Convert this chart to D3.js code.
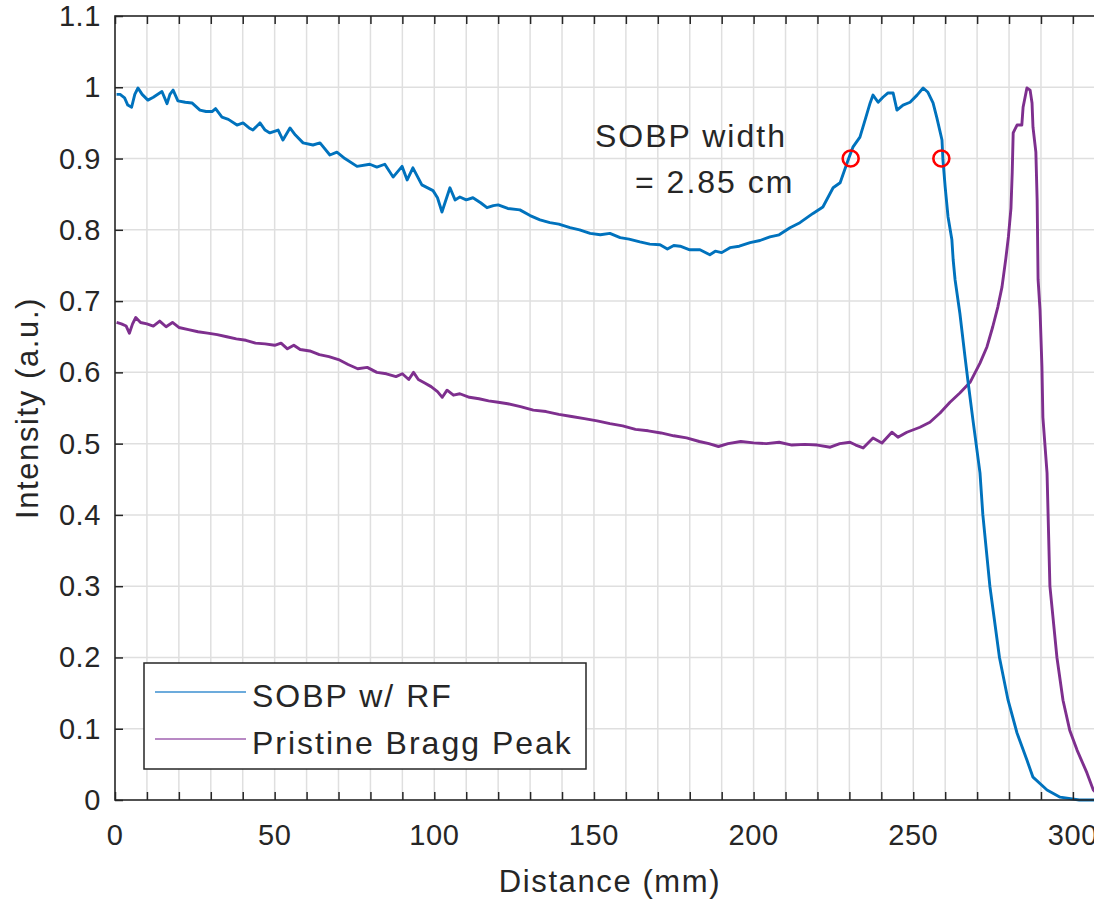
<!DOCTYPE html>
<html>
<head>
<meta charset="utf-8">
<script src="https://cdn.jsdelivr.net/npm/d3@7"></script>
<style>
  html, body { margin: 0; padding: 0; background: #fff; }
  svg { display: block; }
  text { font-family: "Liberation Sans", Arial, Helvetica, sans-serif; fill: #262626; }
</style>
</head>
<body>
<svg id="chart" width="1094" height="900"></svg>
<script>
// ---------- data ----------
const sobpX = [0.5,1.6,3.0,4.0,5.2,6.2,7.2,8.5,10.3,12.0,14.7,16.3,17.2,18.2,19.7,22.0,24.1,26.6,28.5,30.4,31.5,33.5,35.5,38.2,40.1,42.0,43.2,45.4,47.0,48.5,51.1,52.6,54.8,56.5,58.9,62.0,64.2,67.3,69.5,72.0,75.8,79.8,82.0,84.5,87.1,89.9,91.5,93.3,96.1,99.6,101.0,102.4,103.5,104.9,106.5,108.0,110.0,112.1,114.5,116.5,118.5,120.0,123,126.8,130,133.1,136.2,139,142.5,145.5,148.8,152,155,158.2,161,164.4,167.5,170.7,173,175,177,180,183.2,186.3,188,190,192.6,195.5,198.9,202,205.1,208,211.4,214.5,218.6,221.7,224.9,227.1,229.6,231.1,233.3,234.9,236.5,237.4,239.0,240.5,242.1,243.7,244.9,246.8,249.0,251.2,253.1,254.6,256.2,257.4,259.0,259.3,260.0,260.9,262.1,262.5,263.1,264.6,266.2,267.1,268.7,270.9,271.8,274.0,277.0,279.7,282.5,285.6,287.5,291.9,296.0,302.0,310.0];
const sobpY = [0.990,0.990,0.985,0.975,0.972,0.990,0.999,0.990,0.982,0.986,0.994,0.977,0.990,0.996,0.981,0.979,0.978,0.968,0.966,0.966,0.970,0.958,0.955,0.947,0.950,0.943,0.940,0.950,0.940,0.936,0.940,0.926,0.943,0.933,0.922,0.919,0.922,0.905,0.909,0.900,0.889,0.892,0.888,0.892,0.874,0.889,0.870,0.887,0.863,0.855,0.845,0.825,0.840,0.859,0.842,0.846,0.842,0.845,0.838,0.831,0.834,0.835,0.830,0.828,0.820,0.814,0.810,0.808,0.803,0.800,0.795,0.793,0.795,0.789,0.787,0.783,0.780,0.779,0.773,0.778,0.777,0.772,0.772,0.765,0.770,0.768,0.775,0.777,0.782,0.785,0.790,0.793,0.803,0.810,0.823,0.832,0.859,0.866,0.898,0.916,0.930,0.954,0.978,0.989,0.979,0.986,0.992,0.992,0.968,0.975,0.979,0.989,0.999,0.993,0.978,0.957,0.926,0.898,0.860,0.818,0.786,0.758,0.730,0.683,0.622,0.589,0.533,0.459,0.400,0.300,0.200,0.140,0.094,0.056,0.032,0.014,0.004,0.000,0.000];

const braggX = [0.5,2,3.5,4.5,5.5,6.5,8,10,12,14,16,18,20,23,26,29,32,35,38,41,44,47,50,52,54,56,58,61,64,67,70,73,76,79,82,85,88,90,92,93.5,95,97,99,101,102.5,104,106,108,111,114,117,120,123,127,131,135,139,143,147,151,155,159,163,167,171,175,179,183,186,189,192,196,200,204,208,212,216,220,224,227,230.2,232,234.3,237.4,240.2,243.3,245.2,248,252.1,255.2,258.4,261.5,264.6,267.8,270.9,273.1,274.9,276.5,277.8,279.0,279.8,280.6,281.0,281.3,282.5,284.0,284.4,285.6,286.6,287.2,287.5,288.4,288.8,289.1,289.7,290.3,290.6,291.9,292.8,295.0,296.9,299.0,301.3,304.4,306.4,308.5];
const braggY = [0.670,0.668,0.665,0.655,0.668,0.677,0.670,0.668,0.665,0.672,0.664,0.670,0.663,0.660,0.657,0.655,0.653,0.650,0.647,0.645,0.641,0.640,0.638,0.641,0.633,0.638,0.632,0.630,0.625,0.622,0.618,0.611,0.605,0.607,0.600,0.598,0.594,0.598,0.590,0.600,0.590,0.585,0.580,0.573,0.565,0.575,0.568,0.570,0.565,0.563,0.560,0.558,0.556,0.552,0.547,0.545,0.541,0.538,0.535,0.532,0.528,0.525,0.520,0.518,0.515,0.511,0.508,0.503,0.500,0.496,0.500,0.503,0.501,0.500,0.502,0.498,0.499,0.498,0.495,0.500,0.502,0.498,0.494,0.508,0.501,0.516,0.509,0.516,0.523,0.530,0.543,0.558,0.571,0.586,0.613,0.636,0.664,0.692,0.720,0.760,0.790,0.830,0.881,0.936,0.947,0.947,0.972,0.999,0.996,0.978,0.944,0.909,0.842,0.730,0.688,0.608,0.537,0.459,0.300,0.200,0.140,0.098,0.070,0.038,0.014,0.004];

const markerX = [230.4, 258.8];
const markerY = [0.9, 0.9];

const seriesNames = ["SOBP w/ RF", "Pristine Bragg Peak"];
const seriesColors = ["#0072BD", "#7E2F8E"];
const legendColors = ["#3b8fd0", "#a062b0"];

const xTicks = [0, 50, 100, 150, 200, 250, 300];
const xMinorTicks = [0,10,20,30,40,50,60,70,80,90,100,110,120,130,140,150,160,170,180,190,200,210,220,230,240,250,260,270,280,290,300,310];
const yTicks = [0, 0.1, 0.2, 0.3, 0.4, 0.5, 0.6, 0.7, 0.8, 0.9, 1, 1.1];
const yTickLabels = ["0", "0.1", "0.2", "0.3", "0.4", "0.5", "0.6", "0.7", "0.8", "0.9", "1", "1.1"];

const annotationLines = ["SOBP width", "= 2.85 cm"];

// ---------- layout ----------
(function () {
const svg = d3.select("#chart");
const pLeft = 115, pTop = 16, pBottom = 800;
const pxPerMm = 3.193;
const xMax = 310;
const pRight = pLeft + xMax * pxPerMm;

const x = d3.scaleLinear().domain([0, xMax]).range([pLeft, pRight]);
const y = d3.scaleLinear().domain([0, 1.1]).range([pBottom, pTop]);

const axisColor = "#262626";
const gridColor = "#dfdfdf";

// grid
const grid = svg.append("g");
grid.selectAll("line.vg").data(xMinorTicks.filter(d => d > 0)).join("line")
  .attr("x1", d => x(d)).attr("x2", d => x(d))
  .attr("y1", pTop).attr("y2", pBottom)
  .attr("stroke", gridColor).attr("stroke-width", 1.5);
grid.selectAll("line.hg").data(yTicks.filter(d => d > 0 && d < 1.1)).join("line")
  .attr("x1", pLeft).attr("x2", pRight)
  .attr("y1", d => y(d)).attr("y2", d => y(d))
  .attr("stroke", gridColor).attr("stroke-width", 1.5);

// clip
svg.append("clipPath").attr("id", "plotclip").append("rect")
  .attr("x", pLeft).attr("y", pTop - 2).attr("width", pRight - pLeft).attr("height", pBottom - pTop + 4);

// lines
const lineGen = d3.line().x(d => x(d[0])).y(d => y(d[1]));
const plot = svg.append("g").attr("clip-path", "url(#plotclip)");
plot.append("path").datum(d3.zip(braggX, braggY))
  .attr("d", lineGen).attr("fill", "none")
  .attr("stroke", seriesColors[1]).attr("stroke-width", 2.9).attr("stroke-linejoin", "round");
plot.append("path").datum(d3.zip(sobpX, sobpY))
  .attr("d", lineGen).attr("fill", "none")
  .attr("stroke", seriesColors[0]).attr("stroke-width", 2.9).attr("stroke-linejoin", "round");

// markers
plot.selectAll("circle.m").data(d3.zip(markerX, markerY)).join("circle")
  .attr("cx", d => x(d[0])).attr("cy", d => y(d[1])).attr("r", 8)
  .attr("fill", "none").attr("stroke", "#ff0000").attr("stroke-width", 2.6);

// axes box + inner ticks
const tickLen = 8;
const axesG = svg.append("g");
const styleAxis = g => { g.select(".domain").remove(); g.selectAll("line").attr("stroke", axisColor).attr("stroke-width", 1.5); };
axesG.append("g").attr("transform", `translate(0,${pBottom})`)
  .call(d3.axisBottom(x).tickValues(xMinorTicks).tickSize(-tickLen).tickFormat("")).call(styleAxis);
axesG.append("g").attr("transform", `translate(0,${pTop})`)
  .call(d3.axisTop(x).tickValues(xMinorTicks).tickSize(-tickLen).tickFormat("")).call(styleAxis);
axesG.append("g").attr("transform", `translate(${pLeft},0)`)
  .call(d3.axisLeft(y).tickValues(yTicks).tickSize(-tickLen).tickFormat("")).call(styleAxis);

axesG.append("rect").attr("x", pLeft).attr("y", pTop).attr("width", pRight - pLeft).attr("height", pBottom - pTop)
  .attr("fill", "none").attr("stroke", axisColor).attr("stroke-width", 1.6);

// tick labels
svg.append("g").selectAll("text").data(xTicks).join("text")
  .attr("x", d => x(d)).attr("y", 845).attr("text-anchor", "middle")
  .style("font-size", "29px").style("letter-spacing", "0.6px")
  .text(d => d);
svg.append("g").selectAll("text").data(yTicks).join("text")
  .attr("x", 101).attr("y", d => y(d) + 10).attr("text-anchor", "end")
  .style("font-size", "29px").style("letter-spacing", "0.6px")
  .text((d, i) => yTickLabels[i]);

// axis labels
svg.append("text").attr("x", 610).attr("y", 892).attr("text-anchor", "middle")
  .style("font-size", "31px").style("letter-spacing", "1.6px").text("Distance (mm)");
svg.append("text").attr("transform", "translate(38,408) rotate(-90)").attr("text-anchor", "middle")
  .style("font-size", "31px").style("letter-spacing", "1.6px").text("Intensity (a.u.)");

// annotation
svg.append("text").attr("x", 595).attr("y", 147)
  .style("font-size", "32px").style("letter-spacing", "2px").text(annotationLines[0]);
svg.append("text").attr("x", 635).attr("y", 193)
  .style("font-size", "32px").style("letter-spacing", "2px").text(annotationLines[1]);

// legend
const lg = svg.append("g");
lg.append("rect").attr("x", 144).attr("y", 663).attr("width", 442).attr("height", 106)
  .attr("fill", "#fff").attr("stroke", axisColor).attr("stroke-width", 1.5);
const legendRows = [692, 739];
seriesNames.forEach((name, i) => {
  lg.append("line").attr("x1", 155).attr("x2", 246).attr("y1", legendRows[i]).attr("y2", legendRows[i])
    .attr("stroke", legendColors[i]).attr("stroke-width", 1.6);
  lg.append("text").attr("x", 252).attr("y", legendRows[i] + 15)
    .style("font-size", "32px").style("letter-spacing", "2px").text(name);
});
})();
</script>
</body>
</html>
